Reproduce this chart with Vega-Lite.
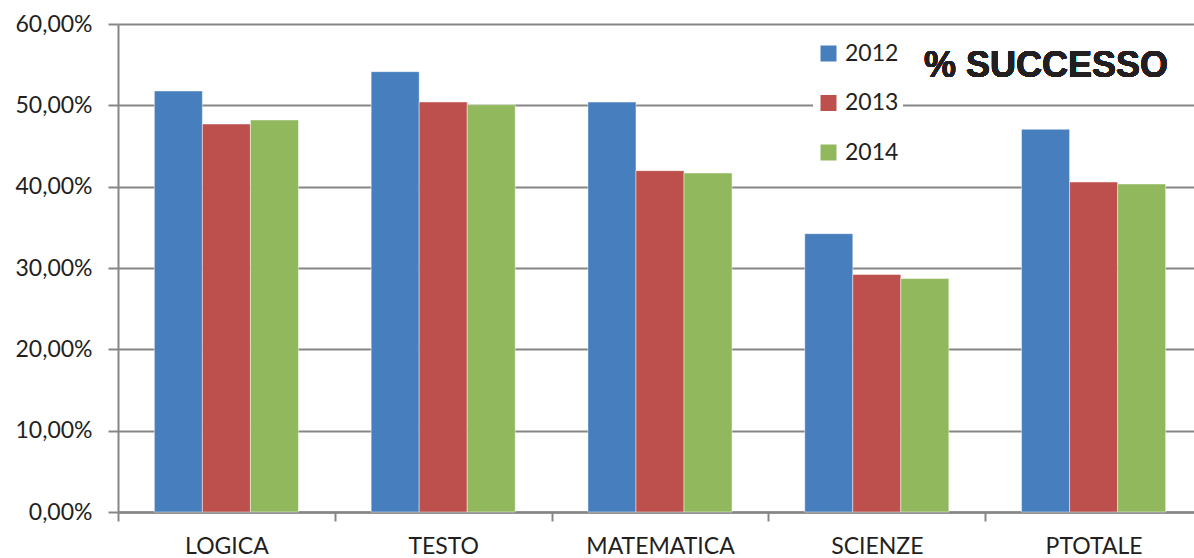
{
  "$schema": "https://vega.github.io/schema/vega-lite/v6.json",
  "width": 1076,
  "height": 488,
  "autosize": {"type": "none"},
  "padding": {"left": 118, "top": 24, "right": 0, "bottom": 46},
  "background": "white",
  "data": {
    "values": [
      {"materia": "LOGICA", "anno": "2012", "valore": 0.5176},
      {"materia": "LOGICA", "anno": "2013", "valore": 0.477},
      {"materia": "LOGICA", "anno": "2014", "valore": 0.482},
      {"materia": "TESTO", "anno": "2012", "valore": 0.5414},
      {"materia": "TESTO", "anno": "2013", "valore": 0.5041},
      {"materia": "TESTO", "anno": "2014", "valore": 0.5008},
      {"materia": "MATEMATICA", "anno": "2012", "valore": 0.504},
      {"materia": "MATEMATICA", "anno": "2013", "valore": 0.4197},
      {"materia": "MATEMATICA", "anno": "2014", "valore": 0.4168},
      {"materia": "SCIENZE", "anno": "2012", "valore": 0.3422},
      {"materia": "SCIENZE", "anno": "2013", "valore": 0.292},
      {"materia": "SCIENZE", "anno": "2014", "valore": 0.287},
      {"materia": "PTOTALE", "anno": "2012", "valore": 0.4705},
      {"materia": "PTOTALE", "anno": "2013", "valore": 0.4057},
      {"materia": "PTOTALE", "anno": "2014", "valore": 0.4033}
    ]
  },
  "layer": [
    {
      "mark": {"type": "bar", "stroke": "#ffffff", "strokeWidth": 1, "strokeOpacity": 0.45},
      "encoding": {
        "x": {
          "field": "materia",
          "type": "nominal",
          "sort": ["LOGICA", "TESTO", "MATEMATICA", "SCIENZE", "PTOTALE"],
          "scale": {"range": [0, 1084], "paddingInner": 0, "paddingOuter": 0},
          "axis": {
            "title": null,
            "labelAngle": 0,
            "labelFont": "Lato",
            "labelFontSize": 23,
            "labelColor": "#231F20",
            "labelPadding": 14,
            "tickBand": "extent",
            "tickSize": 9,
            "tickWidth": 2,
            "tickColor": "#868686",
            "domainColor": "#868686",
            "domainWidth": 2.5,
            "grid": false
          }
        },
        "xOffset": {
          "field": "anno",
          "type": "nominal",
          "scale": {"paddingInner": 0, "paddingOuter": 0.757}
        },
        "y": {
          "field": "valore",
          "type": "quantitative",
          "scale": {"domain": [0, 0.6], "nice": false},
          "axis": {
            "title": null,
            "values": [0, 0.1, 0.2, 0.3, 0.4, 0.5, 0.6],
            "labelExpr": "replace(format(datum.value, '.2%'), '.', ',')",
            "labelFont": "Lato",
            "labelFontSize": 23,
            "labelColor": "#231F20",
            "labelPadding": 16,
            "tickSize": 10,
            "tickWidth": 2,
            "tickColor": "#868686",
            "domainColor": "#868686",
            "domainWidth": 2,
            "grid": true,
            "gridColor": "#868686",
            "gridWidth": 2
          }
        },
        "color": {
          "field": "anno",
          "type": "nominal",
          "scale": {"domain": ["2012", "2013", "2014"], "range": ["#467EBE", "#BD504D", "#92B85E"]},
          "legend": {
            "title": null,
            "orient": "none",
            "legendX": 695,
            "legendY": 14,
            "fillColor": "white",
            "padding": 4,
            "symbolType": "square",
            "symbolSize": 256,
            "symbolStrokeWidth": 0,
            "labelFont": "Lato",
            "labelFontSize": 23,
            "labelColor": "#231F20",
            "labelOffset": 5,
            "rowPadding": 25.5
          }
        }
      }
    },
    {
      "mark": {
        "type": "text",
        "text": "% SUCCESSO",
        "font": "Liberation Sans",
        "fontSize": 36,
        "fontWeight": "bold",
        "fill": "#231F20",
        "strokeWidth": 0,
        "align": "right",
        "baseline": "alphabetic",
        "dx": -34
      },
      "encoding": {
        "x": {"datum": "PTOTALE", "type": "nominal", "bandPosition": 1},
        "y": {"datum": 0.535, "type": "quantitative"}
      }
    }
  ],
  "config": {"view": {"stroke": null}}
}
